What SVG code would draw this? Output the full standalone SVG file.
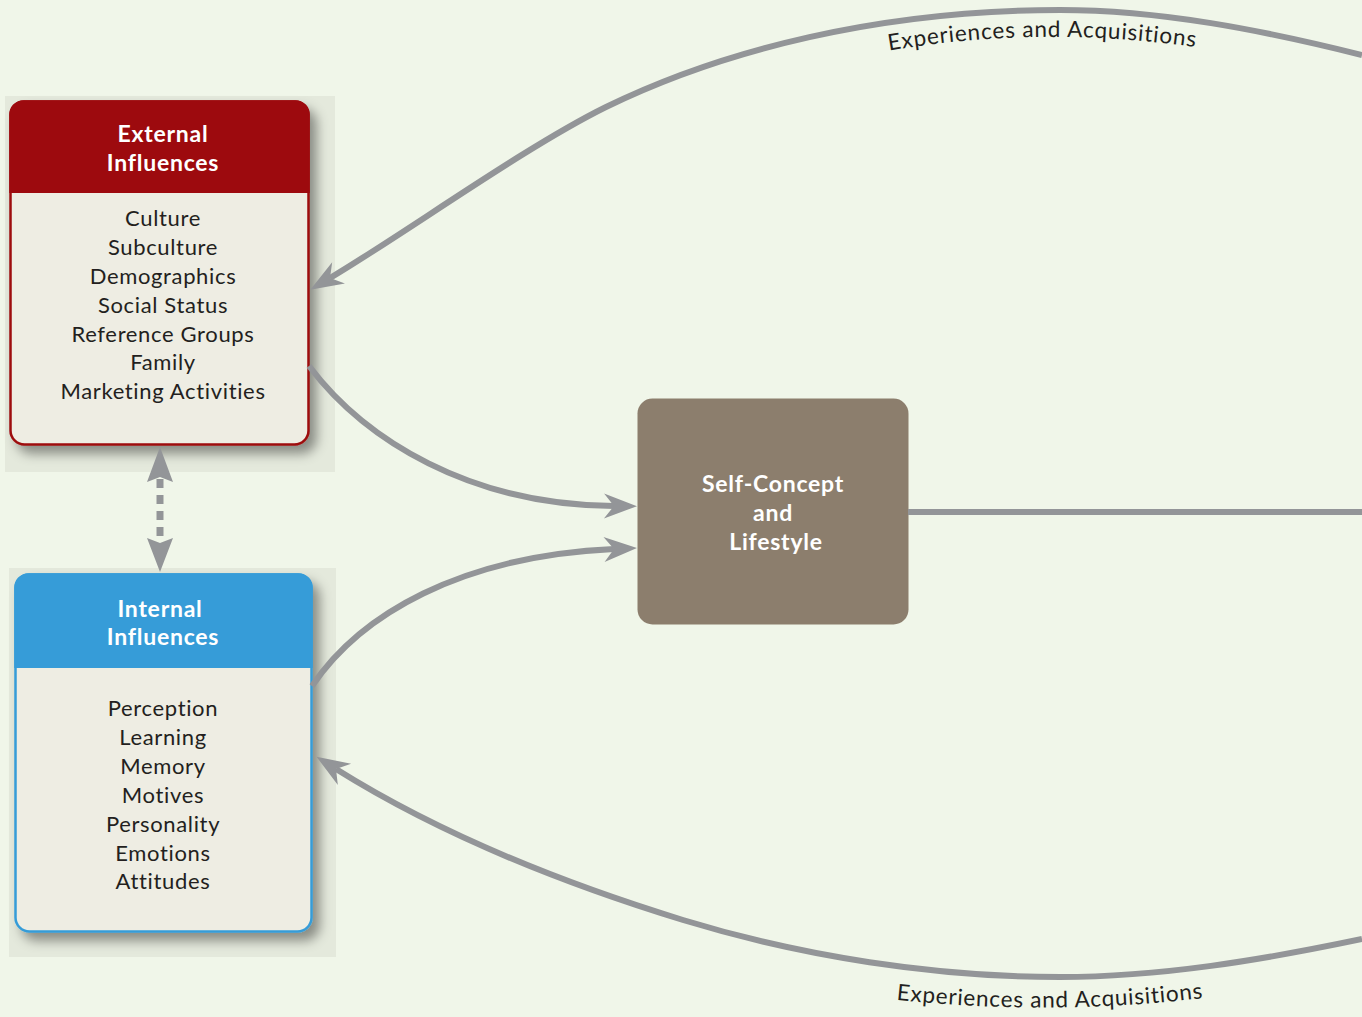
<svg xmlns="http://www.w3.org/2000/svg" width="1362" height="1017" viewBox="0 0 1362 1017">
<style>
.hdr{font-family:Lato,"Open Sans","Liberation Sans",sans-serif;font-weight:700;font-size:23px;letter-spacing:0.75px;fill:#ffffff;text-anchor:middle}
.body{font-family:Lato,"Open Sans","Liberation Sans",sans-serif;font-size:22px;letter-spacing:0.65px;fill:#231f20;text-anchor:middle}
.lbl{font-family:Lato,"Open Sans","Liberation Sans",sans-serif;font-size:22.5px;letter-spacing:0.8px;fill:#231f20;text-anchor:middle}
.conn{fill:none;stroke:#939598;stroke-width:6}
.panel{fill:#e4e9dc}
</style>
<defs>
<filter id="sh" x="-10%" y="-10%" width="130%" height="130%">
<feDropShadow dx="7" dy="8" stdDeviation="6" flood-color="#000" flood-opacity="0.4"/>
</filter>
<marker id="ah" markerUnits="userSpaceOnUse" orient="auto" refX="0" refY="0" markerWidth="40" markerHeight="30" overflow="visible">
<path d="M23,0 L-10,-12.5 L0,0 L-10,12.5 Z" fill="#939598"/>
</marker>
<path id="tp1" d="M870,54 Q1040,22 1215,50"/>
<path id="tp2" d="M880,998 Q1050,1018 1220,996"/>
</defs>
<rect width="1362" height="1017" fill="#f0f6e9"/>
<rect class="panel" x="5" y="96" width="330" height="376"/>
<rect class="panel" x="9" y="568" width="327" height="389"/>

<g id="external">
<g filter="url(#sh)">
<rect x="10.5" y="101.5" width="298" height="343" rx="14" fill="#eeede3" stroke="#9d0a0e" stroke-width="2.5"/>
</g>
<path d="M9.25,193 V115.5 A14,14 0 0 1 23.25,100.25 H295.75 A14,14 0 0 1 309.75,115.5 V193 Z" fill="#9d0a0e"/>
<text class="hdr" x="163" y="142">External</text>
<text class="hdr" x="163" y="171">Influences</text>
<text class="body" x="163" y="226">Culture</text>
<text class="body" x="163" y="255">Subculture</text>
<text class="body" x="163" y="284">Demographics</text>
<text class="body" x="163" y="313">Social Status</text>
<text class="body" x="163" y="341.5">Reference Groups</text>
<text class="body" x="163" y="370">Family</text>
<text class="body" x="163" y="399">Marketing Activities</text>
</g>

<g id="internal">
<g filter="url(#sh)">
<rect x="15.5" y="574.5" width="296" height="357" rx="14" fill="#eeede3" stroke="#369cd8" stroke-width="2.5"/>
</g>
<path d="M14.25,668 V588.5 A14,14 0 0 1 28.25,573.25 H298.75 A14,14 0 0 1 312.75,588.5 V668 Z" fill="#369cd8"/>
<text class="hdr" x="160" y="617">Internal</text>
<text class="hdr" x="163" y="645">Influences</text>
<text class="body" x="163" y="716">Perception</text>
<text class="body" x="163" y="745">Learning</text>
<text class="body" x="163" y="774">Memory</text>
<text class="body" x="163" y="802.5">Motives</text>
<text class="body" x="163" y="831.5">Personality</text>
<text class="body" x="163" y="860.5">Emotions</text>
<text class="body" x="163" y="889">Attitudes</text>
</g>

<g id="selfconcept">
<rect x="637.5" y="398.5" width="271" height="226" rx="15" fill="#8c7e6d"/>
<text class="hdr" x="773" y="492">Self-Concept</text>
<text class="hdr" x="773" y="520.5">and</text>
<text class="hdr" x="776" y="550">Lifestyle</text>
</g>

<g id="connectors">
<path class="conn" d="M309,366 C365,440 470,505 614,506" marker-end="url(#ah)"/>
<path class="conn" d="M312,686 C360,615 460,556 614,549" marker-end="url(#ah)"/>
<path class="conn" stroke-width="7" d="M908,512 H1362"/>
<path class="conn" d="M1362,55 C1262,30 1160,10 1060,10 C880,10 723,50 606,107 C525,147 407,232 330,278" marker-end="url(#ah)"/>
<path class="conn" d="M1362,939 C1262,960 1160,977 1060,977 C935,977 802.5,956.5 683,920 C562.5,883 443,836 336,769" marker-end="url(#ah)"/>
<line x1="160" y1="479" x2="160" y2="542" stroke="#939598" stroke-width="7" stroke-dasharray="9 7"/>
<path d="M160,447 L173,482 L160,477 L147,482 Z" fill="#939598"/>
<path d="M160,572 L173,538 L160,543 L147,538 Z" fill="#939598"/>
</g>

<text class="lbl"><textPath href="#tp1" startOffset="50%">Experiences and Acquisitions</textPath></text>
<text class="lbl"><textPath href="#tp2" startOffset="50%">Experiences and Acquisitions</textPath></text>
</svg>
